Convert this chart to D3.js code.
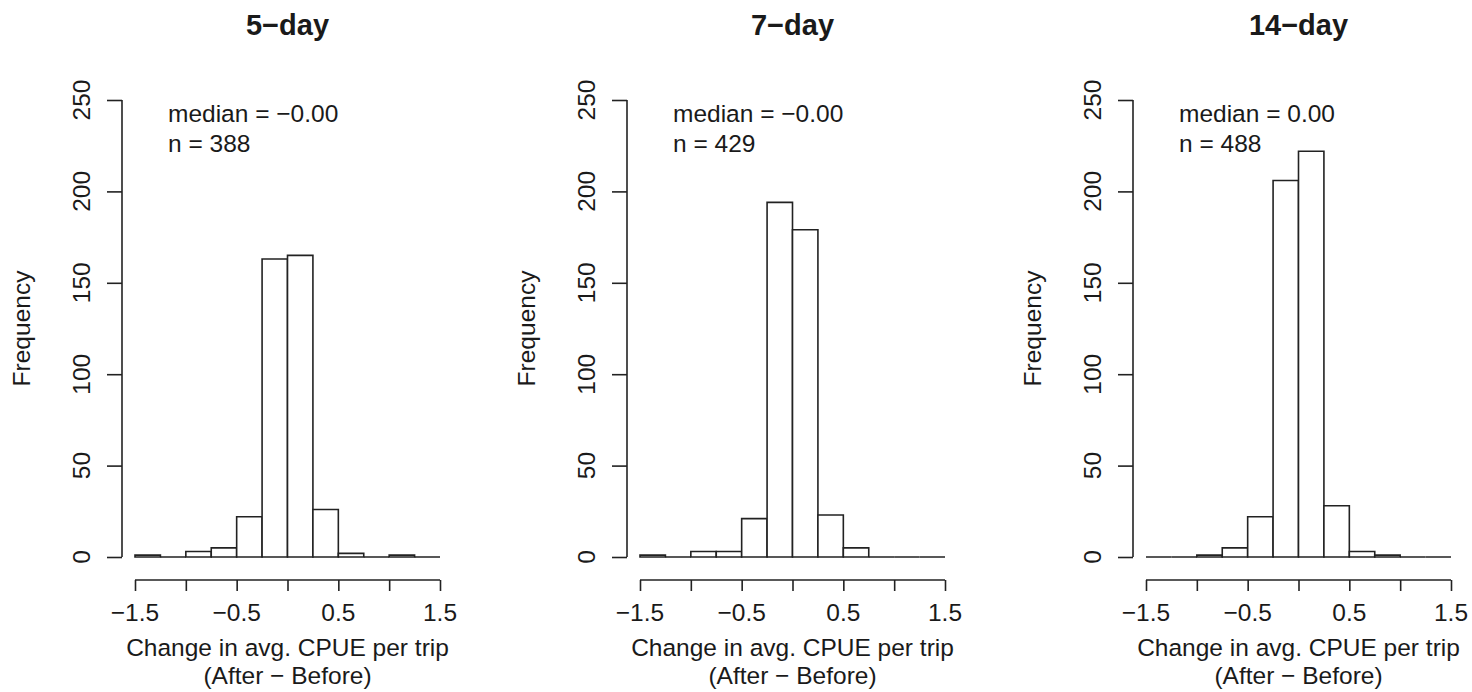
<!DOCTYPE html>
<html>
<head>
<meta charset="utf-8">
<script src="https://cdn.jsdelivr.net/npm/d3@7"></script>
<style>
  html, body { margin: 0; padding: 0; background: #fff; }
  text { font-family: "Liberation Sans", Arial, sans-serif; fill: #1a1a1a; }
</style>
</head>
<body>
<svg id="chart" width="1472" height="692"></svg>
<script>
// ---- data ----
const panelTitles = ["5\u2212day", "7\u2212day", "14\u2212day"];
const binStarts = [-1.5, -1.25, -1.0, -0.75, -0.5, -0.25, 0.0, 0.25, 0.5, 0.75, 1.0, 1.25];
const binWidth = 0.25;
const counts5 = [1, 0, 3, 5, 22, 163, 165, 26, 2, 0, 1, 0];
const counts7 = [1, 0, 3, 3, 21, 194, 179, 23, 5, 0, 0, 0];
const counts14 = [0, 0, 1, 5, 22, 206, 222, 28, 3, 1, 0, 0];
const medianLabels = ["median = \u22120.00", "median = \u22120.00", "median = 0.00"];
const nLabels = ["n = 388", "n = 429", "n = 488"];
const xTicks = [-1.5, -1.0, -0.5, 0, 0.5, 1.0, 1.5];
const xTickLabels = ["\u22121.5", "", "\u22120.5", "", "0.5", "", "1.5"];
const yTicks = [0, 50, 100, 150, 200, 250];
const xAxisTitle1 = "Change in avg. CPUE per trip";
const xAxisTitle2 = "(After \u2212 Before)";
const yAxisTitle = "Frequency";

const allCounts = [counts5, counts7, counts14];

// ---- layout ----
const svg = d3.select("#chart");
const panelX0 = [135, 640, 1146];
const plotW = 305;
const yTop = 100, yBottom = 557;
const stroke = "#222";
const fs = 24.5;

const y = d3.scaleLinear().domain([0, 250]).range([yBottom, yTop]);

panelX0.forEach((x0, i) => {
  const x = d3.scaleLinear().domain([-1.5, 1.5]).range([x0, x0 + plotW]);
  const g = svg.append("g");
  const counts = allCounts[i];

  // bars (paths so zero-height bins still show as baseline)
  g.selectAll("path.bar")
    .data(binStarts.map((b, k) => ({ b, c: counts[k] })))
    .join("path")
    .attr("class", "bar")
    .attr("d", d => {
      const xa = x(d.b), xb = x(d.b + binWidth), ya = y(0), yb = y(d.c);
      return `M${xa},${ya}V${yb}H${xb}V${ya}Z`;
    })
    .attr("fill", "#fff")
    .attr("stroke", stroke)
    .attr("stroke-width", 1.6);

  // y axis
  const yAxisX = x0 - 13;
  const yAx = g.append("g").attr("transform", `translate(${yAxisX},0)`)
    .call(d3.axisLeft(y).tickValues(yTicks).tickSize(15).tickFormat(""));
  yAx.select(".domain").attr("d", `M0,${y(0)}V${y(250)}`).attr("stroke", stroke).attr("stroke-width", 1.6);
  yAx.selectAll(".tick line").attr("stroke", stroke).attr("stroke-width", 1.6);
  g.selectAll("text.ytl")
    .data(yTicks)
    .join("text")
    .attr("class", "ytl")
    .attr("transform", d => `translate(${yAxisX - 32},${y(d)}) rotate(-90)`)
    .attr("text-anchor", "middle")
    .attr("font-size", fs)
    .text(d => d);

  // y axis title
  g.append("text")
    .attr("transform", `translate(${x0 - 105},${(yTop + yBottom) / 2}) rotate(-90)`)
    .attr("text-anchor", "middle")
    .attr("font-size", fs)
    .text(yAxisTitle);

  // x axis
  const xAxisY = 580;
  const xAx = g.append("g").attr("transform", `translate(0,${xAxisY})`)
    .call(d3.axisBottom(x).tickValues(xTicks).tickSize(11).tickFormat(""));
  xAx.select(".domain").attr("d", `M${x(-1.5)},0H${x(1.5)}`).attr("stroke", stroke).attr("stroke-width", 1.6);
  xAx.selectAll(".tick line").attr("stroke", stroke).attr("stroke-width", 1.6);
  g.selectAll("text.xtl")
    .data(xTicks.map((t, k) => ({ t, l: xTickLabels[k] })).filter(d => d.l))
    .join("text")
    .attr("class", "xtl")
    .attr("x", d => x(d.t))
    .attr("y", 621)
    .attr("text-anchor", "middle")
    .attr("font-size", fs)
    .text(d => d.l);

  // x axis titles
  const cx = x(0);
  g.append("text").attr("x", cx).attr("y", 656).attr("text-anchor", "middle")
    .attr("font-size", fs).text(xAxisTitle1);
  g.append("text").attr("x", cx).attr("y", 684).attr("text-anchor", "middle")
    .attr("font-size", fs).text(xAxisTitle2);

  // panel title
  g.append("text").attr("x", cx).attr("y", 35).attr("text-anchor", "middle")
    .attr("font-size", 29).attr("font-weight", "bold").text(panelTitles[i]);

  // annotations
  g.append("text").attr("x", x0 + 33).attr("y", 122).attr("font-size", fs).text(medianLabels[i]);
  g.append("text").attr("x", x0 + 33).attr("y", 152).attr("font-size", fs).text(nLabels[i]);
});
</script>
</body>
</html>
